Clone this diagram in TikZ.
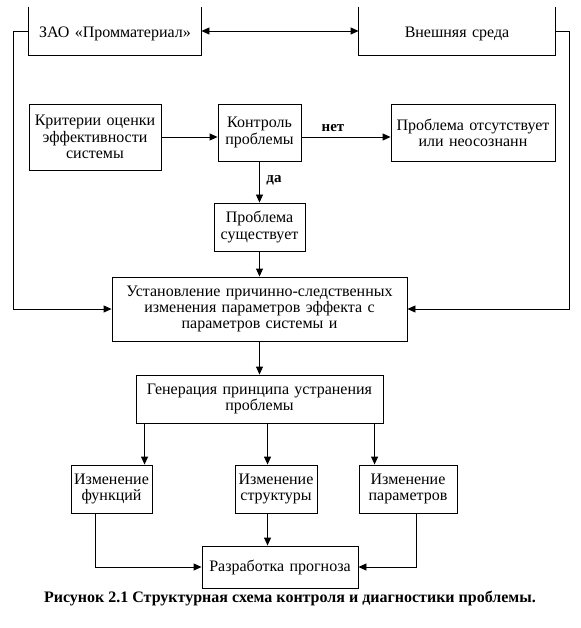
\documentclass[tikz,border=0pt]{standalone}
\usepackage{fontspec}
\setmainfont{Liberation Serif}
\usetikzlibrary{arrows.meta,calc}
\begin{document}
\begin{tikzpicture}[x=1pt,y=-1pt, line width=0.9pt,
  txt/.style={inner sep=0pt, align=center, font=\fontsize{16}{16.2}\selectfont},
  box/.style={txt, draw},
  lbl/.style={inner sep=0pt, font=\bfseries\fontsize{15}{16}\selectfont},
  arr/.style={-{Triangle[length=8pt,width=7pt]}},
  darr/.style={{Triangle[length=8pt,width=7pt]}-{Triangle[length=8pt,width=7pt]}}]
\useasboundingbox (0,0) rectangle (580,628);
% top boxes (open at top)
\node[txt, text width=172pt, minimum height=48pt] (zao) at (115,31) {\raisebox{-3pt}[\height][\depth]{ЗАО «Промматериал»}};
\node[txt, text width=196pt, minimum height=48pt] (ext) at (457,31) {\raisebox{-3pt}[\height][\depth]{Внешняя среда}};
\draw (zao.north west) -- (zao.south west) -- (zao.south east) -- (zao.north east);
\draw (ext.north west) -- (ext.south west) -- (ext.south east) -- (ext.north east);
\draw[darr] (zao.east) -- (ext.west);
% second row
\node[box, text width=132pt, minimum height=66pt] (krit) at (95,137) {Критерии оценки\\эффективности\\системы};
\node[box, text width=83pt, minimum height=57pt] (kont) at (259.5,132.5) {Контроль\\проблемы};
\node[box, text width=164pt, minimum height=57pt] (otsut) at (473,132.5) {Проблема отсутствует\\или неосознанн};
\draw[arr] (krit.east) -- (krit.east -| kont.west);
\draw[arr] (kont.east |- krit.east) -- (otsut.west |- krit.east);
\node[lbl] (net) at (333,128) {нет};
% exists
\node[box, text width=91pt, minimum height=48pt] (sush) at (259.5,227) {Проблема\\существует};
\draw[arr] (kont.south) -- (sush.north);
\node[lbl] (da) at (274,180) {да};
% establishing
\node[box, text width=295pt, minimum height=64pt] (ust) at (259.5,309) {Установление причинно-следственных\\изменения параметров эффекта с\\параметров системы и};
\draw[arr] (sush.south) -- (ust.north);
\coordinate (ll) at (13,31);
\coordinate (rl) at (569,31);
\draw[arr] (zao.west) -- (ll) |- (ust.west);
\draw[arr] (ext.east) -- (rl) |- (ust.east);
% generation
\node[box, text width=247pt, minimum height=48pt] (gen) at (259.5,399) {Генерация принципа устранения\\проблемы};
\draw[arr] (ust.south) -- (gen.north);
% changes
\node[box, text width=81pt, minimum height=48pt] (fun) at (111.5,489) {Изменение\\функций};
\node[box, text width=82pt, minimum height=48pt] (str) at (276,489) {Изменение\\структуры};
\node[box, text width=98pt, minimum height=48pt] (par) at (408,489) {Изменение\\параметров};
\path (gen.south west) ++(9,0) coordinate (g1);
\path (gen.south west) ++(132,0) coordinate (g2);
\path (gen.south west) ++(239,0) coordinate (g3);
\draw[arr] (g1) -- (g1 |- fun.north);
\draw[arr] (g2) -- (g2 |- str.north);
\draw[arr] (g3) -- (g3 |- par.north);
% forecast
\node[box, text width=156pt, minimum height=42pt] (razr) at (280,567) {Разработка прогноза};
\path (fun.south) ++(-16.5,0) coordinate (f1);
\path (par.south) ++(8,0) coordinate (p1);
\draw[arr] (f1) |- (razr.west);
\draw[arr] (g2 |- str.south) -- (g2 |- razr.north);
\draw[arr] (p1) |- (razr.east);
% caption
\node[lbl, font=\bfseries\fontsize{16}{16}\selectfont] (cap) at (290,598) {Рисунок 2.1 Структурная схема контроля и диагностики проблемы.};
\end{tikzpicture}
\end{document}
